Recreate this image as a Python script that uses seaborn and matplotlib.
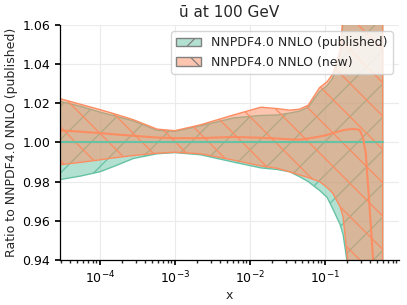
import numpy as np
import pandas as pd
import matplotlib
matplotlib.use("Agg")
import matplotlib.pyplot as plt
import matplotlib.patches as mpatches
import seaborn as sns

# x grid
x = [2.93e-5, 5.5e-5, 1e-4, 1.6e-4, 2.8e-4, 5.8e-4, 1e-3, 2.2e-3, 6e-3, 1.4e-2, 2.3e-2,
     3.4e-2, 4.6e-2, 6e-2, 8.5e-2, 1.07e-1, 1.28e-1, 1.6e-1, 1.75e-1, 2.0e-1, 2.4e-1,
     2.9e-1, 3.2e-1, 3.5e-1, 3.9e-1, 4.4e-1, 5.9e-1]

# published band (ratio to itself)
pub_up = [1.021, 1.0185, 1.0155, 1.0135, 1.011, 1.0062, 1.0057, 1.0085, 1.0125, 1.0138,
          1.014, 1.015, 1.016, 1.018, 1.026, 1.029, 1.033, 1.045, 1.062, 1.09, 1.12,
          1.15, 1.17, 1.19, 1.2, 1.2, 1.2]
pub_lo = [0.981, 0.9828, 0.985, 0.988, 0.9918, 0.9942, 0.9948, 0.9937, 0.990, 0.987,
          0.9862, 0.985, 0.9825, 0.980, 0.9755, 0.972, 0.966, 0.958, 0.953, 0.938, 0.90,
          0.87, 0.85, 0.83, 0.82, 0.8, 0.8]
pub_c = [1.0] * len(x)

# new band
new_up = [1.0224, 1.0195, 1.0168, 1.0145, 1.0116, 1.0068, 1.006, 1.009, 1.014, 1.018,
          1.0173, 1.0165, 1.017, 1.019, 1.028, 1.031, 1.035, 1.047, 1.065, 1.09, 1.12,
          1.15, 1.17, 1.19, 1.2, 1.2, 1.2]
new_lo = [0.9886, 0.9898, 0.9911, 0.9922, 0.9933, 0.9945, 0.995, 0.9942, 0.991, 0.988,
          0.9868, 0.985, 0.9834, 0.982, 0.980, 0.977, 0.974, 0.967, 0.962, 0.941, 0.90,
          0.87, 0.85, 0.83, 0.82, 0.8, 0.8]
new_c = [1.0062, 1.0055, 1.0048, 1.0041, 1.0034, 1.0025, 1.0022, 1.0022, 1.0028, 1.0024,
         1.002, 1.0016, 1.0014, 1.002, 1.003, 1.0038, 1.0048, 1.0058, 1.0062, 1.0066,
         1.0069, 1.0064, 1.003, 0.995, 0.970, 0.94, 0.85]

labels = ["NNPDF4.0 NNLO (published)", "NNPDF4.0 NNLO (new)"]

sns.set_theme(style="ticks")
plt.rcParams['font.family'] = ['DejaVu Sans']
plt.rcParams['font.size'] = 9
plt.rcParams['hatch.linewidth'] = 0.9
pal = sns.color_palette("Set2")
green, orange = pal[0], pal[1]

df = pd.DataFrame({"x": x, "pub_c": pub_c, "new_c": new_c})

fig, ax = plt.subplots(figsize=(4.07, 3.05), dpi=100)
fig.subplots_adjust(left=0.147, right=0.98, top=0.918, bottom=0.148)

ax.fill_between(x, pub_lo, pub_up, facecolor=(*green, 0.5), edgecolor=green,
                hatch="/", linewidth=1.0)
ax.fill_between(x, new_lo, new_up, facecolor=(*orange, 0.5), edgecolor=orange,
                hatch="\\", linewidth=1.0)
sns.lineplot(data=df, x="x", y="pub_c", color=green, linewidth=1.5, ax=ax)
sns.lineplot(data=df, x="x", y="new_c", color=orange, linewidth=1.5, ax=ax)

ax.set_xscale("log")
ax.set_xlim(2.93e-5, 0.97)
ax.set_ylim(0.94, 1.06)
ax.set_yticks([0.94, 0.96, 0.98, 1.00, 1.02, 1.04, 1.06])
ax.grid(True, color="#ebebeb", linewidth=0.8)
ax.set_axisbelow(True)
ax.tick_params(labelsize=9, colors="black", length=3.5)
ax.tick_params(which="minor", length=2)
for s in ["left", "bottom"]:
    ax.spines[s].set_color("black")
    ax.spines[s].set_linewidth(0.9)
sns.despine(ax=ax)

ax.set_title("ū at 100 GeV", fontsize=11)
ax.set_xlabel("x", fontsize=9, labelpad=2)
ax.set_ylabel("Ratio to NNPDF4.0 NNLO (published)", fontsize=9, labelpad=3)

handles = [mpatches.Patch(facecolor=(*green, 0.5), edgecolor="grey", hatch="/"),
           mpatches.Patch(facecolor=(*orange, 0.5), edgecolor="grey", hatch="\\")]
ax.legend(handles, labels, loc="upper right", fontsize=9, frameon=True)

fig.savefig("out.png", dpi=100)
